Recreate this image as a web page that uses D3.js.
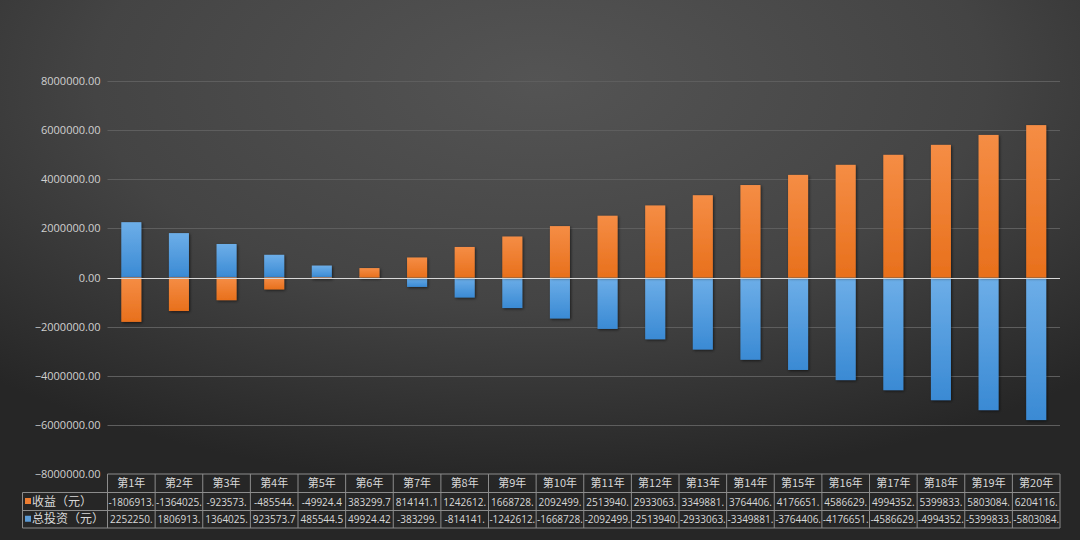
<!DOCTYPE html>
<html><head><meta charset="utf-8">
<script src="https://cdn.jsdelivr.net/npm/d3@7"></script>
<style>
html,body{margin:0;padding:0;background:#333;}
svg{display:block;}
</style></head>
<body>
<svg id="chart" width="1080" height="540"></svg>
<script>
const categories = ["第1年","第2年","第3年","第4年","第5年","第6年","第7年","第8年","第9年","第10年","第11年","第12年","第13年","第14年","第15年","第16年","第17年","第18年","第19年","第20年"];
const seriesNames = ["收益（元）","总投资（元）"];
const income = [-1806913.5,-1364025.3,-923573.7,-485544.5,-49924.4,383299.7,814141.1,1242612.6,1668728.4,2092499.2,2513940.1,2933063.6,3349881.2,3764406.5,4176651.3,4586629.8,4994352.5,5399833.1,5803084.2,6204116.3];
const investment = [2252250.0,1806913.5,1364025.3,923573.7,485544.5,49924.42,-383299.7,-814141.1,-1242612.6,-1668728.4,-2092499.2,-2513940.1,-2933063.6,-3349881.2,-3764406.5,-4176651.3,-4586629.8,-4994352.5,-5399833.1,-5803084.2];
const yTicks = [8000000,6000000,4000000,2000000,0,-2000000,-4000000,-6000000,-8000000];

const W = 1080, H = 540;
const svg = d3.select("#chart");
const defs = svg.append("defs");

const bg = defs.append("radialGradient").attr("id","bg")
  .attr("cx","50%").attr("cy","15%").attr("r","75%").attr("fx","50%").attr("fy","15%");
bg.append("stop").attr("offset","0%").attr("stop-color","#545454");
bg.append("stop").attr("offset","55%").attr("stop-color","#444444");
bg.append("stop").attr("offset","100%").attr("stop-color","#262626");
svg.append("rect").attr("width",W).attr("height",H).attr("fill","url(#bg)");

const gBlue = defs.append("linearGradient").attr("id","gBlue").attr("x1",0).attr("y1",0).attr("x2",0).attr("y2",1);
gBlue.append("stop").attr("offset","0%").attr("stop-color","#6daee8");
gBlue.append("stop").attr("offset","100%").attr("stop-color","#3a8ad4");
const gOrange = defs.append("linearGradient").attr("id","gOrange").attr("x1",0).attr("y1",0).attr("x2",0).attr("y2",1);
gOrange.append("stop").attr("offset","0%").attr("stop-color","#f58d45");
gOrange.append("stop").attr("offset","100%").attr("stop-color","#e8701c");

const flt = defs.append("filter").attr("id","shadow").attr("x","-30%").attr("y","-30%").attr("width","160%").attr("height","160%");
flt.append("feDropShadow").attr("dx",1).attr("dy",1).attr("stdDeviation",1.5).attr("flood-color","#000").attr("flood-opacity",0.6);

const pLeft = 107.5, pRight = 1060, pTop = 81, pBottom = 474;
const x = d3.scaleBand().domain(categories).range([pLeft,pRight]).paddingInner(0.58).paddingOuter(0.29);
const xCol = d3.scaleBand().domain(categories).range([pLeft,pRight]).padding(0);
const y = d3.scaleLinear().domain([-8000000,8000000]).range([pBottom,pTop]);

// gridlines
svg.append("g").selectAll("line").data(yTicks.filter(d=>d!==0 && d!==-8000000)).join("line")
  .attr("x1",pLeft).attr("x2",pRight).attr("y1",d=>Math.round(y(d))+0.5).attr("y2",d=>Math.round(y(d))+0.5)
  .attr("stroke","#5e5e5e").attr("stroke-width",1);

// y axis labels
const yAxis = d3.axisLeft(y).tickValues(yTicks).tickSize(0).tickPadding(0).tickFormat(d=>d3.format(".2f")(d));
const ya = svg.append("g").attr("transform",`translate(${pLeft-7},0)`).call(yAxis);
ya.select(".domain").remove();
ya.selectAll("text").attr("fill","#d0d0d0").attr("font-size",11).attr("font-family","'Open Sans', 'Noto Sans', sans-serif");

// bars
const series = [
  {name:seriesNames[1], values:investment, fill:"url(#gBlue)"},
  {name:seriesNames[0], values:income, fill:"url(#gOrange)"}
];
series.forEach(s=>{
  svg.append("g").attr("filter","url(#shadow)").selectAll("rect").data(categories).join("rect")
    .attr("x",d=>x(d)).attr("width",x.bandwidth())
    .attr("y",(d,i)=>y(Math.max(0,s.values[i])))
    .attr("height",(d,i)=>Math.abs(y(s.values[i])-y(0)))
    .attr("fill",s.fill);
});

// zero line
svg.append("line").attr("x1",pLeft).attr("x2",pRight).attr("y1",Math.round(y(0))+0.5).attr("y2",Math.round(y(0))+0.5)
  .attr("stroke","#d8d8d8").attr("stroke-width",1);

// data table
const rowTop = [474, 492.5, 510.5, 528];
const legendLeft = 22.5;
const tbl = svg.append("g");
const lineColor = "#8c8c8c";
const font = "'Noto Sans CJK SC', 'Noto Sans', sans-serif";
tbl.append("line").attr("x1",pLeft).attr("x2",pRight).attr("y1",rowTop[0]).attr("y2",rowTop[0]).attr("stroke",lineColor);
[1,2,3].forEach(r=>{
  tbl.append("line").attr("x1",legendLeft).attr("x2",pRight).attr("y1",rowTop[r]).attr("y2",rowTop[r]).attr("stroke",lineColor);
});
tbl.append("line").attr("x1",legendLeft).attr("x2",legendLeft).attr("y1",rowTop[1]).attr("y2",rowTop[3]).attr("stroke",lineColor);
const vx = categories.map(c=>xCol(c)).concat([pRight]);
tbl.selectAll("line.v").data(vx).join("line").attr("class","v")
  .attr("x1",d=>d).attr("x2",d=>d).attr("y1",rowTop[0]).attr("y2",rowTop[3]).attr("stroke",lineColor);

tbl.selectAll("text.h").data(categories).join("text").attr("class","h")
  .attr("x",d=>xCol(d)+xCol.bandwidth()/2).attr("y",(rowTop[0]+rowTop[1])/2+4)
  .attr("text-anchor","middle").attr("fill","#d8d8d8").attr("font-size",11).attr("font-family",font).text(d=>d);

const legendColors = ["#ed7d31","#5b9bd5"];
seriesNames.forEach((n,r)=>{
  const cy = (rowTop[r+1]+rowTop[r+2])/2;
  tbl.append("rect").attr("x",25).attr("y",cy-3.5).attr("width",6).attr("height",6).attr("fill",legendColors[r]);
  tbl.append("text").attr("x",32).attr("y",cy+4).attr("fill","#d8d8d8").attr("font-size",12).attr("font-family",font).text(n);
});

// spreadsheet-style cell text: at most 8 characters, but never cut the integer part
function cellText(v){
  let s = String(Math.round(v*100)/100);
  if (s.indexOf(".")<0) s += ".";
  const intLen = s.indexOf(".");
  return s.slice(0, Math.max(8, intLen+1));
}
const rowsVals = [income, investment];
rowsVals.forEach((vals,r)=>{
  const cy = (rowTop[r+1]+rowTop[r+2])/2;
  tbl.append("g").selectAll("text").data(categories).join("text")
    .attr("x",d=>xCol(d)+xCol.bandwidth()/2).attr("y",cy+4)
    .attr("text-anchor","middle").attr("fill","#d8d8d8").attr("font-size",10)
    .attr("font-family","'Open Sans', 'Noto Sans', sans-serif")
    .text((d,i)=>cellText(vals[i]));
});
</script>
</body></html>
